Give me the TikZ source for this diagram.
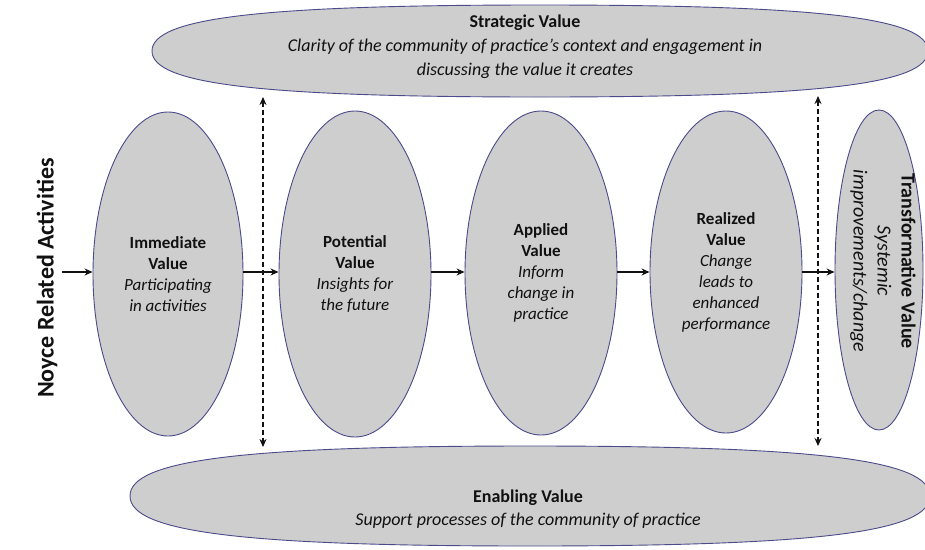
\documentclass[tikz,border=0pt]{standalone}
\usepackage{fontspec}
\setmainfont{Carlito}
\usetikzlibrary{shapes.geometric,arrows.meta,calc}
\definecolor{efill}{HTML}{CECECE}
\definecolor{eline}{HTML}{4A4A8C}
\definecolor{ink}{HTML}{111111}
\newcommand\lensshape[5]{%
  \path[lens] ({#1-#3},{#2}) .. controls ({#1-#3},{#2-#5*#4}) and ({#1-#5*#3},{#2-#4}) .. ({#1},{#2-#4})
    .. controls ({#1+#5*#3},{#2-#4}) and ({#1+#3},{#2-#5*#4}) .. ({#1+#3},{#2})
    .. controls ({#1+#3},{#2+#5*#4}) and ({#1+#5*#3},{#2+#4}) .. ({#1},{#2+#4})
    .. controls ({#1-#5*#3},{#2+#4}) and ({#1-#3},{#2+#5*#4}) .. cycle;}
\begin{document}
\begin{tikzpicture}[x=1pt,y=-1pt,
  lens/.style={draw=eline,fill=efill,line width=0.9pt},
  vell/.style={ellipse,draw=eline,fill=efill,line width=0.9pt,inner sep=0pt,
    align=center,text=ink,font=\fontsize{17}{21}\selectfont},
  txt/.style={align=center,text=ink,inner sep=0pt,font=\fontsize{18}{24}\selectfont},
  flow/.style={-{Stealth[length=8pt,width=7pt]},line width=1.3pt,draw=ink},
  dasharrow/.style={{Stealth[length=8pt,width=7pt]}-{Stealth[length=8pt,width=7pt]},
    line width=1.5pt,draw=ink,dash pattern=on 5pt off 3pt}]
\useasboundingbox (0,0) rectangle (925,549);
\fill[white] (0,0) rectangle (925,549);

% top and bottom bands
\lensshape{540}{51}{388}{46}{0.72}
\lensshape{530}{496}{400}{50}{0.72}
\node[txt] (strategic) at (525,47) {\textbf{Strategic Value}\\
  \textit{Clarity of the community of practice’s context and engagement in}\\
  \textit{discussing the value it creates}};
\node[txt,font=\fontsize{18}{23}\selectfont] (enabling) at (528,509) {\textbf{Enabling Value}\\
  \textit{Support processes of the community of practice}};

% value ellipses
\node[vell,minimum width=150pt,minimum height=324pt] (E1) at (168,274)
  {\textbf{Immediate}\\\textbf{Value}\\\textit{Participating}\\\textit{in activities}};
\node[vell,minimum width=152pt,minimum height=326pt] (E2) at (355,274)
  {\textbf{Potential}\\\textbf{Value}\\\textit{Insights for}\\\textit{the future}};
\node[vell,minimum width=152pt,minimum height=324pt] (E3) at (541,273)
  {\textbf{Applied}\\\textbf{Value}\\\textit{Inform}\\\textit{change in}\\\textit{practice}};
\node[vell,minimum width=152pt,minimum height=322pt] (E4) at (726,272)
  {\textbf{Realized}\\\textbf{Value}\\\textit{Change}\\\textit{leads to}\\\textit{enhanced}\\\textit{performance}};
\node[vell,minimum width=88pt,minimum height=320pt] (E5) at (879,270) {};
\node[txt,rotate=-90,font=\fontsize{20}{24}\selectfont] (trans) at (883,261)
  {\textbf{Transformative Value}\\\textit{Systemic}\\\textit{improvements/change}};

% left label
\node[txt,rotate=90,font=\fontsize{24}{28}\selectfont\bfseries] (noyce) at (47,278) {Noyce Related Activities};
\coordinate (start) at (62,272);

% flow arrows
\draw[flow] (start) -- (start -| E1.west);
\draw[flow] (E1.east |- 0,272) -- (E2.west |- 0,272);
\draw[flow] (E2.east |- 0,272) -- (E3.west |- 0,272);
\draw[flow] (E3.east |- 0,272) -- (E4.west |- 0,272);
\draw[flow] (E4.east |- 0,272) -- (E5.west |- 0,272);

% dashed arrows between bands
\coordinate (d1t) at (263,97);
\coordinate (d1b) at (263,447);
\coordinate (d2t) at (818,96);
\coordinate (d2b) at (818,446);
\draw[dasharrow] (d1t) -- (d1b);
\draw[dasharrow] (d2t) -- (d2b);
\end{tikzpicture}
\end{document}
